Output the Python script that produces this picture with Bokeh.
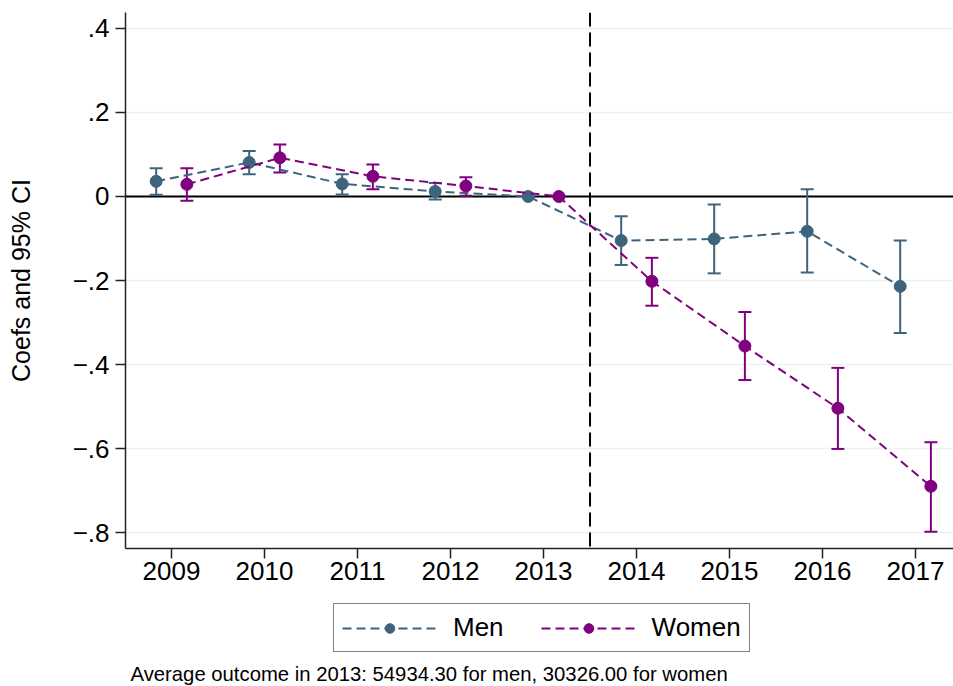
from bokeh.plotting import figure
from bokeh.layouts import column
from bokeh.models import (ColumnDataSource, Range1d, FixedTicker, Span, Whisker, TeeHead,
                          Legend, LegendItem, Label)
from bokeh.embed import file_html
from bokeh.resources import INLINE

years = [2009, 2010, 2011, 2012, 2013, 2014, 2015, 2016, 2017]
men_coef = [0.036, 0.081, 0.030, 0.012, 0.000, -0.105, -0.101, -0.083, -0.214]
men_lo = [0.004, 0.053, 0.005, -0.007, 0.000, -0.163, -0.183, -0.181, -0.325]
men_hi = [0.067, 0.108, 0.053, 0.032, 0.000, -0.047, -0.019, 0.017, -0.105]
women_coef = [0.029, 0.092, 0.048, 0.025, 0.000, -0.202, -0.356, -0.504, -0.690]
women_lo = [-0.010, 0.057, 0.017, 0.002, 0.000, -0.260, -0.437, -0.601, -0.798]
women_hi = [0.067, 0.124, 0.076, 0.046, 0.000, -0.146, -0.275, -0.408, -0.585]
y_ticks = [-0.8, -0.6, -0.4, -0.2, 0.0, 0.2, 0.4]
y_tick_labels = ["\u2212.8", "\u2212.6", "\u2212.4", "\u2212.2", "0", ".2", ".4"]
series_names = ["Men", "Women"]
note_text = "Average outcome in 2013: 54934.30 for men, 30326.00 for women"
y_title = "Coefs and 95% CI"
treatment_cut = 2013.5

MEN_C = "#3e647d"
WOMEN_C = "#800080"
FONT = "Liberation Sans"
OFF = 0.165
FRAME_W = 828

p = figure(width=953, height=600, output_backend="svg", toolbar_location=None,
           x_range=Range1d(2008.505, 2008.505 + FRAME_W / 93.0),
           y_range=Range1d(-0.838, 0.438),
           min_border_left=125, min_border_right=0, min_border_top=12, min_border_bottom=52)
p.outline_line_color = None
p.background_fill_color = "white"
p.border_fill_color = "white"

# axes
p.xaxis.ticker = FixedTicker(ticks=years)
p.xaxis.major_label_overrides = {y: str(y) for y in years}
p.yaxis.ticker = FixedTicker(ticks=y_ticks)
p.yaxis.major_label_overrides = dict(zip(y_ticks, y_tick_labels))
for ax in (p.xaxis, p.yaxis):
    ax.major_label_text_font = FONT
    ax.major_label_text_font_size = "26px"
    ax.major_label_text_color = "black"
    ax.major_tick_out = 10
    ax.major_tick_in = 0
    ax.minor_tick_line_color = None
    ax.axis_line_width = 1.5
    ax.axis_line_color = "#222222"
    ax.major_tick_line_width = 1.5
    ax.major_tick_line_color = "#222222"
p.xaxis.major_label_standoff = 3
p.yaxis.major_label_standoff = 6
p.yaxis.axis_label = y_title
p.yaxis.axis_label_text_font = FONT
p.yaxis.axis_label_text_font_size = "25px"
p.yaxis.axis_label_text_font_style = "normal"
p.yaxis.axis_label_text_color = "black"
p.yaxis.axis_label_standoff = 35

p.xgrid.grid_line_color = None
p.ygrid.ticker = FixedTicker(ticks=y_ticks)
p.ygrid.grid_line_color = "#eaf2f3"
p.ygrid.grid_line_width = 1.5

zero = Span(location=0, dimension="width", line_color="black", line_width=2, level="underlay")
cut = Span(location=treatment_cut, dimension="height", line_color="black", line_width=2,
           line_dash="14 6", level="underlay")
p.add_layout(zero)
p.add_layout(cut)

# bottom strip for legend and note (its frame is aligned with the main frame)
p2 = figure(width=953, height=86, output_backend="svg", toolbar_location=None,
            x_range=Range1d(0, 1), y_range=Range1d(0, 1),
            min_border_left=0, min_border_right=0, min_border_top=0, min_border_bottom=0)
p2.axis.visible = False
p2.grid.visible = False
p2.outline_line_color = None
p2.border_fill_color = "white"

items = []
for name, coef, lo, hi, col, off in [
        (series_names[0], men_coef, men_lo, men_hi, MEN_C, -OFF),
        (series_names[1], women_coef, women_lo, women_hi, WOMEN_C, OFF)]:
    src = ColumnDataSource(dict(x=[y + off for y in years], y=coef, lo=lo, hi=hi))
    w = Whisker(source=src, base="x", lower="lo", upper="hi", dimension="height",
                line_color=col, line_width=2,
                upper_head=TeeHead(size=13, line_color=col, line_width=2),
                lower_head=TeeHead(size=13, line_color=col, line_width=2))
    p.add_layout(w)
    p.line("x", "y", source=src, line_color=col, line_width=2, line_dash="9 5")
    p.scatter("x", "y", source=src, size=12, fill_color=col, line_color=col)
    # legend proxies in the bottom strip (single point placed outside its visible range)
    proxy = ColumnDataSource(dict(x=[-10.0], y=[-10.0]))
    ln = p2.line("x", "y", source=proxy, line_color=col, line_width=2, line_dash="9 5")
    sc = p2.scatter("x", "y", source=proxy, size=12, fill_color=col, line_color=col)
    items.append(LegendItem(label=name, renderers=[ln, sc]))

leg = Legend(items=items, orientation="horizontal", location=(208, 34),
             glyph_width=95, glyph_height=24, label_standoff=16, spacing=37,
             padding=8, margin=0,
             label_text_font=FONT, label_text_font_size="26px", label_text_color="black",
             border_line_color="black", border_line_width=1.5,
             background_fill_color="white", background_fill_alpha=1.0)
p2.add_layout(leg, "center")

note = Label(x=5, y=13, x_units="screen", y_units="screen", text=note_text,
             text_font=FONT, text_font_size="20.3px", text_baseline="middle",
             text_color="black")
p2.add_layout(note)

layout = column(p, p2, spacing=0)
open("out.html", "w").write(file_html(layout, INLINE))
